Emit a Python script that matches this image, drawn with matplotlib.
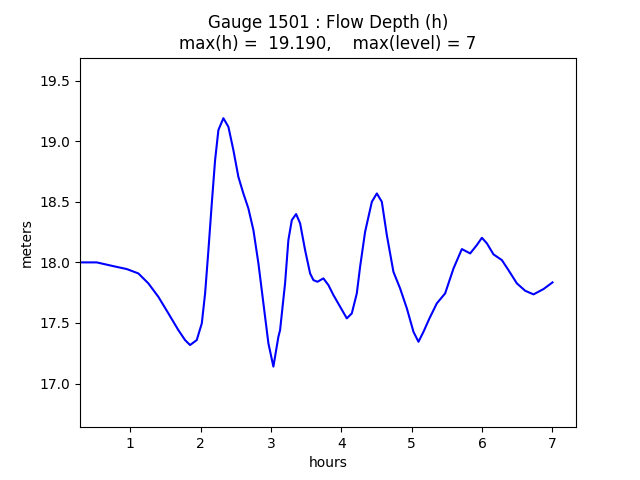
import matplotlib
matplotlib.use('Agg')
from matplotlib import pyplot as plt

# Gauge 1501 flow depth
hours = [0.284, 0.522, 0.758, 0.949, 1.114, 1.256, 1.398, 1.541, 1.683,
         1.778, 1.849, 1.944, 2.016, 2.063, 2.110, 2.158, 2.205, 2.252,
         2.323, 2.394, 2.465, 2.536, 2.607, 2.678, 2.750, 2.821, 2.892,
         2.963, 3.034, 3.105, 3.129, 3.200, 3.247, 3.296, 3.357, 3.414,
         3.485, 3.556, 3.603, 3.660, 3.745, 3.816, 3.888, 3.983, 4.078,
         4.149, 4.220, 4.267, 4.338, 4.434, 4.505, 4.576, 4.647, 4.741,
         4.836, 4.932, 5.026, 5.097, 5.168, 5.253, 5.358, 5.476, 5.595,
         5.714, 5.832, 5.927, 5.999, 6.070, 6.164, 6.283, 6.377, 6.496,
         6.614, 6.733, 6.875, 7.003]
depth = [18.000, 18.000, 17.969, 17.945, 17.909, 17.827, 17.716, 17.579, 17.441,
         17.359, 17.318, 17.359, 17.497, 17.744, 18.101, 18.487, 18.844, 19.092,
         19.190, 19.119, 18.927, 18.706, 18.569, 18.446, 18.266, 17.992, 17.662,
         17.332, 17.140, 17.386, 17.441, 17.827, 18.184, 18.349, 18.399, 18.322,
         18.101, 17.909, 17.854, 17.840, 17.868, 17.813, 17.730, 17.634, 17.538,
         17.579, 17.744, 17.964, 18.252, 18.500, 18.569, 18.500, 18.225, 17.922,
         17.785, 17.620, 17.427, 17.345, 17.427, 17.538, 17.662, 17.744, 17.950,
         18.110, 18.074, 18.143, 18.203, 18.157, 18.066, 18.019, 17.936, 17.827,
         17.766, 17.736, 17.780, 17.835]
max_level = 7

fig, ax = plt.subplots(figsize=(6.4, 4.8), dpi=100)
ax.plot(hours, depth, 'b-')
ax.set_xlim(0.284, 7.337)
ax.set_ylim(min(depth) - 0.5, max(depth) + 0.5)
ax.set_xlabel('hours')
ax.set_ylabel('meters')
ax.set_title('Gauge 1501 : Flow Depth (h)\nmax(h) = %7.3f,    max(level) = %d'
             % (max(depth), max_level))
fig.savefig('out.png')
